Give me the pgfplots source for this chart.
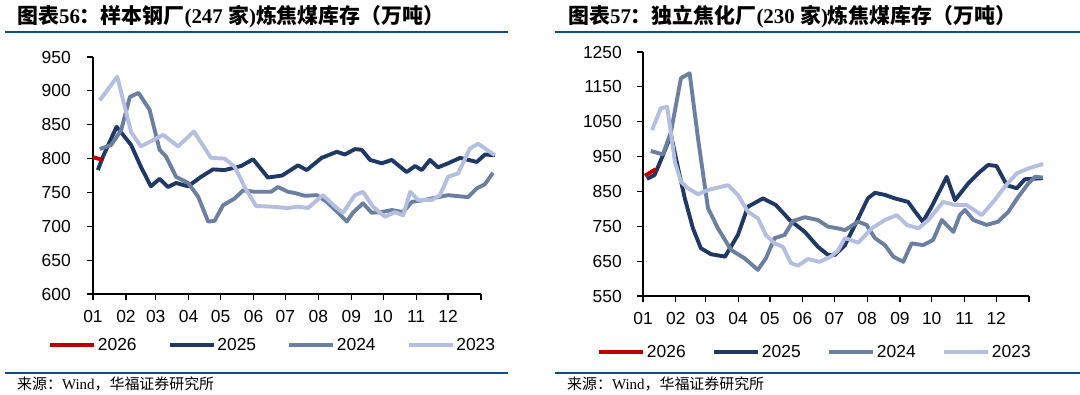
\documentclass[border=0pt]{standalone}
\usepackage{pgfplots}
\pgfplotsset{compat=1.18}
\usepackage{fontspec}
\setmainfont{Liberation Sans}
\newfontfamily\cjk{Noto Sans CJK SC}
\newfontfamily\tnr{Liberation Serif}
\definecolor{c26}{HTML}{C00000}
\definecolor{c25}{HTML}{1F3864}
\definecolor{c24}{HTML}{6B80A0}
\definecolor{c23}{HTML}{B4BEE0}
\definecolor{rulec}{HTML}{0E4D8C}

\pgfplotsset{
  base/.style={
    scale only axis,
    axis lines=left,
    axis line style={black, line width=1.2bp, -},
    xmin=0, xmax=12, clip=false,
    xtick={0,1.019,1.940,2.959,3.945,4.964,5.950,6.969,7.988,8.975,9.994,10.980,12},
    xticklabels={01,02,03,04,05,06,07,08,09,10,11,12,{}},
    tick align=outside,
    major tick length=6bp,
    tick style={black, line width=1.2bp},
    ticklabel style={font=\fontsize{17.5}{20}\selectfont},
    /pgf/number format/assume math mode=true,
    /pgf/number format/1000 sep={},
    yticklabel style={inner sep=0pt, xshift=-16bp},
    xticklabel style={inner sep=0pt, yshift=-10bp},
    legend columns=4,
    legend style={draw=none, fill=none, anchor=west, inner sep=0pt,
      font=\fontsize{17.5}{20}\selectfont,
      nodes={inner xsep=1.5bp, inner ysep=0pt}},
    legend image code/.code={\draw[#1, line width=4.2bp] (0bp,0bp) -- (44bp,0bp);},
    every axis plot/.append style={line width=3.9bp, line join=round},
  }
}

\begin{document}
\begin{tikzpicture}
\path[use as bounding box] (0bp,0bp) rectangle (1080bp,395bp);

% ---------- left panel ----------
\draw[rulec, line width=2bp] (5bp,363bp) -- (508bp,363bp);
\draw[rulec, line width=2bp] (5bp,22bp) -- (508bp,22bp);
\node[anchor=west, inner sep=0pt] at (17bp,378bp) {\fontsize{21}{24}\selectfont\tnr\bfseries{\cjk\bfseries 图表}56{\cjk\bfseries ：样本钢厂}(247 {\cjk\bfseries 家}){\cjk\bfseries 炼焦煤库存（万吨）}};
\node[anchor=west, inner sep=0pt] at (17bp,11bp) {\fontsize{15}{17}\selectfont{\cjk 来源：}\tnr Wind{\cjk ，华福证券研究所}};

\begin{axis}[base, at={(93bp,101bp)}, anchor=south west, width=388bp, height=237bp,
  ymin=600, ymax=950, ytick={600,650,...,950},
  legend style={at={(-0.116,-0.215)}},
  /tikz/every even column/.append style={column sep=29.5bp}]
\addlegendimage{color=c26}\addlegendentry{2026}
\addlegendimage{color=c25}\addlegendentry{2025}
\addlegendimage{color=c24}\addlegendentry{2024}
\addlegendimage{color=c23}\addlegendentry{2023}
\addplot[c25, forget plot] coordinates {(0.15,783)(0.31,803)(0.73,847)(1.18,820)(1.48,788)(1.79,759)(2.06,770)(2.32,758)(2.57,764)(2.94,759)(3.34,773)(3.71,784)(4.07,783)(4.58,789)(4.95,799)(5.41,772)(5.85,775)(6.34,790)(6.61,783)(7.07,801)(7.54,810)(7.79,806)(8.10,814)(8.31,813)(8.57,798)(8.93,793)(9.24,798)(9.70,780)(9.96,789)(10.17,783)(10.42,798)(10.67,787)(10.98,793)(11.35,801)(11.87,795)(12.12,806)(12.43,805)};
\addplot[c24, forget plot] coordinates {(0.21,814)(0.56,820)(0.87,842)(1.14,891)(1.41,897)(1.75,872)(2.06,813)(2.26,803)(2.57,773)(2.94,764)(3.25,744)(3.56,707)(3.76,708)(4.02,731)(4.38,741)(4.64,753)(5.00,751)(5.51,751)(5.72,758)(6.03,751)(6.25,749)(6.56,745)(6.92,746)(7.23,736)(7.58,720)(7.85,707)(8.04,720)(8.35,734)(8.62,720)(8.93,721)(9.24,724)(9.59,721)(9.86,736)(10.27,739)(10.67,743)(10.98,746)(11.60,743)(11.87,756)(12.12,762)(12.37,779)};
\addplot[c23, forget plot] coordinates {(0.21,886)(0.75,921)(1.18,839)(1.48,818)(2.17,835)(2.63,818)(3.12,840)(3.65,801)(4.07,800)(4.38,788)(4.69,758)(5.04,730)(5.50,729)(6.03,727)(6.34,729)(6.65,727)(7.11,746)(7.49,729)(7.73,720)(8.10,746)(8.35,751)(8.66,729)(9.03,714)(9.34,721)(9.59,716)(9.81,751)(10.05,739)(10.49,739)(10.73,746)(10.98,773)(11.29,778)(11.66,815)(11.91,822)(12.12,815)(12.43,805)};
\addplot[c26, forget plot] coordinates {(0,802)(0.31,798)};
\end{axis}

% ---------- right panel ----------
\draw[rulec, line width=2bp] (555bp,363bp) -- (1080bp,363bp);
\draw[rulec, line width=2bp] (555bp,22bp) -- (1080bp,22bp);
\node[anchor=west, inner sep=0pt] at (568bp,378bp) {\fontsize{21}{24}\selectfont\tnr\bfseries{\cjk\bfseries 图表}57{\cjk\bfseries ：独立焦化厂}(230 {\cjk\bfseries 家}){\cjk\bfseries 炼焦煤库存（万吨）}};
\node[anchor=west, inner sep=0pt] at (567bp,11bp) {\fontsize{15}{17}\selectfont{\cjk 来源：}\tnr Wind{\cjk ，华福证券研究所}};

\begin{axis}[base, at={(643bp,99bp)}, anchor=south west, width=386bp, height=244bp,
  ymin=550, ymax=1250, ytick={550,650,...,1250},
  yticklabel style={xshift=1bp},
  legend style={at={(-0.119,-0.2295)}},
  /tikz/every even column/.append style={column sep=25bp}]
\addlegendimage{color=c26}\addlegendentry{2026}
\addlegendimage{color=c25}\addlegendentry{2025}
\addlegendimage{color=c24}\addlegendentry{2024}
\addlegendimage{color=c23}\addlegendentry{2023}
\addplot[c25, forget plot] coordinates {(0.12,886)(0.36,897)(0.62,954)(0.87,1012)(1.09,917)(1.30,830)(1.55,745)(1.80,687)(2.11,670)(2.55,663)(2.95,725)(3.26,806)(3.73,830)(4.13,811)(4.56,768)(5.03,734)(5.44,691)(5.75,668)(5.97,668)(6.28,696)(6.64,763)(6.99,830)(7.21,846)(7.52,840)(7.83,830)(8.24,820)(8.46,792)(8.70,763)(8.97,806)(9.29,864)(9.44,892)(9.70,825)(10.11,873)(10.42,902)(10.73,926)(10.99,923)(11.31,868)(11.62,859)(11.87,885)(12.43,888)};
\addplot[c24, forget plot] coordinates {(0.24,966)(0.62,956)(0.87,1021)(1.18,1175)(1.45,1189)(1.71,1002)(2.02,802)(2.33,744)(2.74,682)(3.16,658)(3.57,625)(3.82,658)(4.09,716)(4.40,725)(4.66,765)(5.03,776)(5.44,768)(5.75,749)(6.06,744)(6.28,739)(6.69,763)(6.95,754)(7.21,716)(7.52,696)(7.78,663)(8.09,648)(8.35,701)(8.71,696)(9.02,711)(9.29,768)(9.65,734)(9.85,782)(10.01,797)(10.27,768)(10.68,754)(11.04,763)(11.36,792)(11.67,835)(11.98,873)(12.19,892)(12.43,890)};
\addplot[c23, forget plot] coordinates {(0.28,1026)(0.55,1088)(0.75,1093)(0.87,1017)(0.99,935)(1.18,878)(1.40,859)(1.71,842)(2.02,854)(2.64,868)(2.95,840)(3.26,792)(3.57,773)(3.82,725)(4.09,701)(4.35,691)(4.60,644)(4.82,637)(5.13,656)(5.49,648)(5.84,663)(6.06,680)(6.28,716)(6.69,703)(7.11,744)(7.52,768)(7.89,782)(8.20,754)(8.56,744)(8.87,768)(9.33,820)(9.70,811)(10.06,811)(10.53,782)(10.89,820)(11.25,864)(11.62,902)(11.98,916)(12.44,929)};
\addplot[c26, forget plot] coordinates {(0.06,895)(0.40,914)};
\end{axis}
\end{tikzpicture}
\end{document}
